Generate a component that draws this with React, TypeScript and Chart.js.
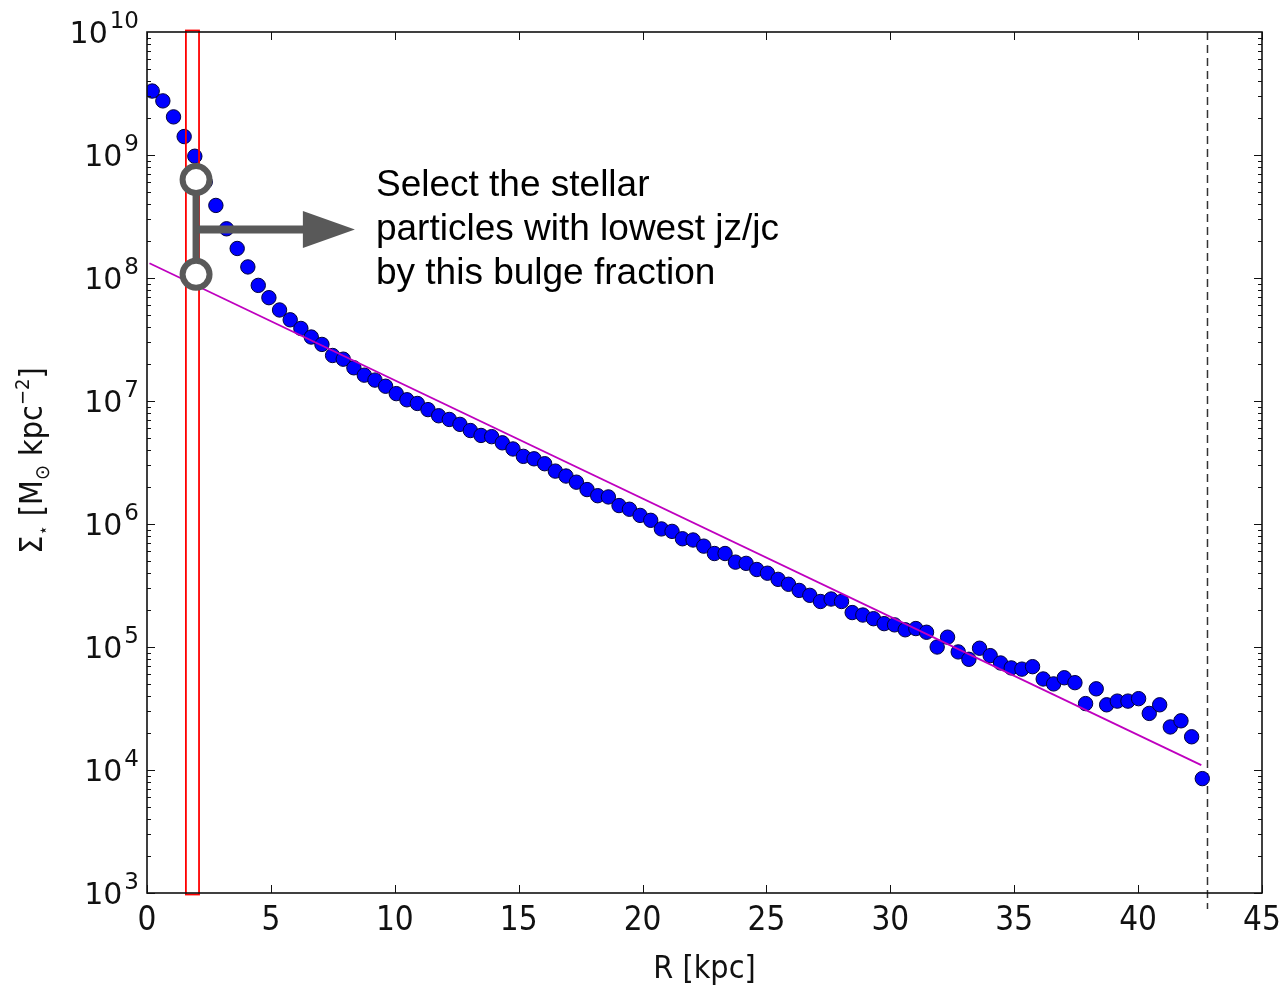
import React, { useEffect, useRef } from 'react';
import { Chart, registerables } from 'chart.js';

Chart.register(...registerables);

// Radial bin centres R [kpc]
const radiusKpc = [
  0.21, 0.64, 1.07, 1.50, 1.93, 2.35, 2.78, 3.21, 3.64, 4.07,
  4.49, 4.92, 5.35, 5.78, 6.21, 6.63, 7.06, 7.49, 7.92, 8.35,
  8.77, 9.20, 9.63, 10.06, 10.49, 10.91, 11.34, 11.77, 12.20, 12.63,
  13.05, 13.48, 13.91, 14.34, 14.77, 15.19, 15.62, 16.05, 16.48, 16.91,
  17.33, 17.76, 18.19, 18.62, 19.05, 19.47, 19.90, 20.33, 20.76, 21.19,
  21.61, 22.04, 22.47, 22.90, 23.33, 23.75, 24.18, 24.61, 25.04, 25.47,
  25.89, 26.32, 26.75, 27.18, 27.61, 28.03, 28.46, 28.89, 29.32, 29.75,
  30.17, 30.60, 31.03, 31.46, 31.89, 32.31, 32.74, 33.17, 33.60, 34.03,
  34.45, 34.88, 35.31, 35.74, 36.17, 36.59, 37.02, 37.45, 37.88, 38.31,
  38.73, 39.16, 39.59, 40.02, 40.45, 40.87, 41.30, 41.73, 42.16, 42.59,
];

// log10 of surface density Σ* [M_sun kpc^-2]
const logSigma = [
  9.52, 9.44, 9.31, 9.15, 8.99, 8.78, 8.59, 8.40, 8.24, 8.09,
  7.94, 7.84, 7.74, 7.66, 7.59, 7.52, 7.46, 7.37, 7.34, 7.27,
  7.21, 7.17, 7.12, 7.06, 7.01, 6.98, 6.93, 6.88, 6.85, 6.81,
  6.76, 6.72, 6.71, 6.66, 6.61, 6.55, 6.53, 6.49, 6.43, 6.39,
  6.34, 6.28, 6.23, 6.22, 6.15, 6.12, 6.07, 6.03, 5.96, 5.94,
  5.88, 5.87, 5.82, 5.76, 5.76, 5.69, 5.68, 5.63, 5.60, 5.55,
  5.51, 5.46, 5.42, 5.37, 5.39, 5.37, 5.28, 5.26, 5.23, 5.19,
  5.18, 5.14, 5.15, 5.12, 5.00, 5.08, 4.96, 4.90, 4.99, 4.93,
  4.87, 4.83, 4.82, 4.84, 4.74, 4.70, 4.75, 4.71, 4.54, 4.66,
  4.53, 4.56, 4.56, 4.58, 4.46, 4.53, 4.35, 4.40, 4.27, 3.93,
];

// Exponential disc fit (end points)
const fitR = [0.1, 42.55];
const fitLogSigma = [8.12, 4.04];

// Outer radius marker
const rMax = 42.8;
const rMaxLogRange = [10, 2.87];

// Bulge band and annotation
const bulgeBand = [1.57, 2.1];
const bracketR = 1.98;
const bracketLog = [8.8, 8.03];
const arrowLog = 8.394;
const arrowEndR = 8.39;
const annotationLines = ['Select the stellar', 'particles with lowest jz/jc', 'by this bulge fraction'];
const annotationR = 9.24;
const annotationLog = 8.667;

const xTicks = [0, 5, 10, 15, 20, 25, 30, 35, 40, 45];
const yExponents = [3, 4, 5, 6, 7, 8, 9, 10];
const xTitle = 'R [kpc]';

const overlayPlugin = {
  id: 'overlay',
  afterDatasetsDraw(chart: any) {
    const { ctx, chartArea: a } = chart;
    const xs = chart.scales.x;
    const ys = chart.scales.y;
    ctx.save();
    // red bulge band
    const bx0 = xs.getPixelForValue(bulgeBand[0]);
    const bx1 = xs.getPixelForValue(bulgeBand[1]);
    ctx.strokeStyle = '#ff0000';
    ctx.lineWidth = 1.8;
    ctx.strokeRect(bx0, a.top - 1.5, bx1 - bx0, a.bottom - a.top + 3);

    // bracket
    const grey = '#595959';
    const cx = xs.getPixelForValue(bracketR);
    const cy0 = ys.getPixelForValue(Math.pow(10, bracketLog[0]));
    const cy1 = ys.getPixelForValue(Math.pow(10, bracketLog[1]));
    const ay = ys.getPixelForValue(Math.pow(10, arrowLog));
    const ax1 = xs.getPixelForValue(arrowEndR);
    ctx.strokeStyle = grey;
    ctx.fillStyle = grey;
    ctx.lineWidth = 7;
    ctx.beginPath();
    ctx.moveTo(cx, cy0);
    ctx.lineTo(cx, cy1);
    ctx.stroke();
    ctx.lineWidth = 8;
    ctx.beginPath();
    ctx.moveTo(cx, ay);
    ctx.lineTo(ax1 - 50, ay);
    ctx.stroke();
    ctx.beginPath();
    ctx.moveTo(ax1 - 52, ay - 18.5);
    ctx.lineTo(ax1, ay);
    ctx.lineTo(ax1 - 52, ay + 18.5);
    ctx.closePath();
    ctx.fill();
    for (const cyy of [cy0, cy1]) {
      ctx.beginPath();
      ctx.arc(cx, cyy, 13.5, 0, Math.PI * 2);
      ctx.fillStyle = '#ffffff';
      ctx.fill();
      ctx.lineWidth = 6;
      ctx.strokeStyle = grey;
      ctx.stroke();
    }

    // annotation text
    const tx = xs.getPixelForValue(annotationR);
    const ty = ys.getPixelForValue(Math.pow(10, annotationLog));
    ctx.fillStyle = '#000';
    ctx.font = '37px "Liberation Sans", Arial, sans-serif';
    ctx.textAlign = 'left';
    ctx.textBaseline = 'alphabetic';
    annotationLines.forEach((line, i) => ctx.fillText(line, tx, ty + i * 44));
    ctx.restore();
  },
  afterDraw(chart: any) {
    const { ctx, chartArea: a } = chart;
    const xs = chart.scales.x;
    const ys = chart.scales.y;
    ctx.save();
    ctx.strokeStyle = '#111';
    ctx.lineWidth = 1;
    ctx.beginPath();
    for (const t of xTicks) {
      const px = Math.round(xs.getPixelForValue(t)) + 0.5;
      ctx.moveTo(px, a.bottom);
      ctx.lineTo(px, a.bottom - 8);
      ctx.moveTo(px, a.top);
      ctx.lineTo(px, a.top + 8);
    }
    for (let k = yExponents[0]; k < yExponents[yExponents.length - 1]; k++) {
      for (let m = 1; m <= 9; m++) {
        const py = Math.round(ys.getPixelForValue(m * Math.pow(10, k))) + 0.5;
        const len = m === 1 ? 8 : 4;
        ctx.moveTo(a.left, py);
        ctx.lineTo(a.left + len, py);
        ctx.moveTo(a.right, py);
        ctx.lineTo(a.right - len, py);
      }
    }
    ctx.stroke();
    ctx.lineWidth = 1.6;
    ctx.strokeRect(a.left, a.top, a.right - a.left, a.bottom - a.top);

    // x tick labels
    ctx.fillStyle = '#111';
    ctx.font = '33px "Liberation Sans Narrow", "DejaVu Sans Condensed", sans-serif';
    ctx.textAlign = 'center';
    ctx.textBaseline = 'alphabetic';
    for (const t of xTicks) {
      ctx.fillText(String(t), xs.getPixelForValue(t), a.bottom + 37);
    }
    // y tick labels 10^k
    for (const k of yExponents) {
      const py = ys.getPixelForValue(Math.pow(10, k));
      ctx.textAlign = 'right';
      ctx.font = '23px "DejaVu Sans", sans-serif';
      const e = String(k);
      const we = ctx.measureText(e).width;
      ctx.fillText(e, a.left - 8, py - 4);
      ctx.font = '30px "DejaVu Sans", sans-serif';
      ctx.fillText('10', a.left - 10 - we, py + 11);
    }
    // x title
    ctx.textAlign = 'center';
    ctx.font = '32px "DejaVu Sans Condensed", "DejaVu Sans", sans-serif';
    ctx.fillText(xTitle, (a.left + a.right) / 2, a.bottom + 85);

    // y title (rotated, with sub/superscripts)
    const parts = [
      { t: 'Σ', s: 32, dy: 0 },
      { t: '⋆', s: 18, dy: 7 },
      { t: ' [M', s: 32, dy: 0 },
      { t: '⊙', s: 20, dy: 7 },
      { t: ' kpc', s: 32, dy: 0 },
      { t: '−2', s: 20, dy: -13 },
      { t: ']', s: 32, dy: 0 },
    ];
    const fam = '"DejaVu Sans Condensed", "DejaVu Sans", sans-serif';
    let total = 0;
    const widths = parts.map((p) => {
      ctx.font = `${p.s}px ${fam}`;
      const w = ctx.measureText(p.t).width;
      total += w;
      return w;
    });
    ctx.translate(42, (a.top + a.bottom) / 2 - 2);
    ctx.rotate(-Math.PI / 2);
    ctx.textAlign = 'left';
    let u = -total / 2;
    parts.forEach((p, i) => {
      ctx.font = `${p.s}px ${fam}`;
      ctx.fillText(p.t, u, p.dy);
      u += widths[i];
    });
    ctx.restore();
  },
};

export default function App() {
  const canvasRef = useRef<HTMLCanvasElement | null>(null);
  useEffect(() => {
    if (!canvasRef.current) return;
    const scatterData = radiusKpc.map((r, i) => ({ x: r, y: Math.pow(10, logSigma[i]) }));
    const fitData = fitR.map((r, i) => ({ x: r, y: Math.pow(10, fitLogSigma[i]) }));
    const rMaxData = rMaxLogRange.map((l) => ({ x: rMax, y: Math.pow(10, l) }));
    const chart = new Chart(canvasRef.current, {
      type: 'scatter',
      data: {
        datasets: [
          {
            type: 'line',
            data: fitData,
            borderColor: '#bf00bf',
            borderWidth: 1.8,
            pointRadius: 0,
            showLine: true,
            order: 0,
          } as any,
          {
            type: 'scatter',
            data: scatterData,
            backgroundColor: '#0000ff',
            borderColor: '#00003c',
            borderWidth: 1,
            pointRadius: 7.2,
            order: 1,
          },
          {
            type: 'line',
            data: rMaxData,
            borderColor: '#333333',
            borderWidth: 1.5,
            borderDash: [8, 5],
            pointRadius: 0,
            showLine: true,
            clip: false,
            order: 2,
          } as any,
        ],
      },
      options: {
        animation: false,
        responsive: false,
        maintainAspectRatio: false,
        events: [],
        layout: { padding: { left: 147, right: 23, top: 32, bottom: 92 } },
        plugins: { legend: { display: false }, tooltip: { enabled: false } },
        scales: {
          x: { type: 'linear', min: 0, max: 45, display: false },
          y: { type: 'logarithmic', min: 1e3, max: 1e10, display: false },
        },
      },
      plugins: [overlayPlugin],
    });
    return () => chart.destroy();
  }, []);
  return (
    <div style={{ position: 'absolute', left: 0, top: 0, width: 1285, height: 985, background: '#fff' }}>
      <canvas ref={canvasRef} width={1285} height={985} style={{ display: 'block' }} />
    </div>
  );
}
